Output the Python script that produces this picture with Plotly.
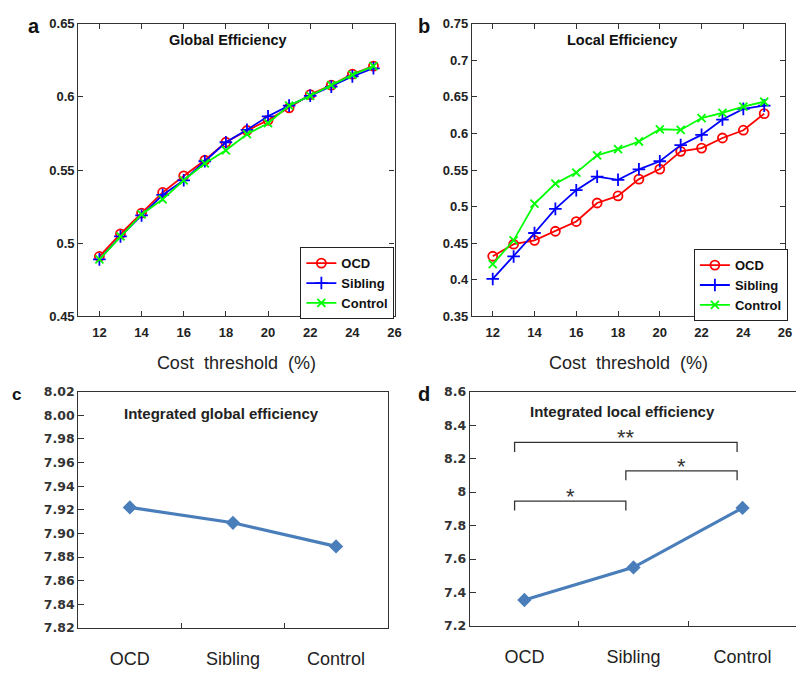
import plotly.graph_objects as go

# ---------------- data ----------------
cost = [12, 13, 14, 15, 16, 17, 18, 19, 20, 21, 22, 23, 24, 25]

glob_ocd = [0.491, 0.5064, 0.5206, 0.5347, 0.546, 0.5567, 0.569, 0.577, 0.584, 0.5925, 0.6015, 0.608, 0.6155, 0.621]
glob_sib = [0.489, 0.5047, 0.519, 0.533, 0.543, 0.556, 0.569, 0.5775, 0.5867, 0.594, 0.6007, 0.607, 0.614, 0.6195]
glob_con = [0.489, 0.5047, 0.5197, 0.530, 0.543, 0.5545, 0.5635, 0.5745, 0.582, 0.594, 0.6007, 0.608, 0.615, 0.621]

loc_ocd = [0.4323, 0.4487, 0.454, 0.4664, 0.4797, 0.505, 0.5146, 0.5376, 0.5513, 0.5756, 0.58, 0.5938, 0.6044, 0.627]
loc_sib = [0.4013, 0.432, 0.464, 0.497, 0.5225, 0.541, 0.5367, 0.551, 0.562, 0.584, 0.598, 0.619, 0.6335, 0.638]
loc_con = [0.4215, 0.454, 0.504, 0.5315, 0.5465, 0.570, 0.5786, 0.589, 0.6057, 0.6048, 0.621, 0.628, 0.6367, 0.6433]

groups = ["OCD", "Sibling", "Control"]
int_global = [7.922, 7.909, 7.889]
int_local = [7.355, 7.55, 7.905]

# significance brackets for panel d
brk_x0 = [-0.09, -0.09, 0.93]
brk_x1 = [1.95, 0.93, 1.95]
brk_y = [8.297, 7.946, 8.127]
brk_leg = [8.24, 7.89, 8.07]
brk_lbl = ["**", "*", "*"]
brk_lbl_y = [8.325, 7.975, 8.155]

W, H = 803, 673
RED, BLUE, GREEN = "#ff0000", "#0000ff", "#00ff00"
LBLUE = "#4a7ebb"

fig = go.Figure()

series = [("OCD", RED, "circle-open", 9), ("Sibling", BLUE, "cross-thin-open", 9), ("Control", GREEN, "x-thin-open", 8)]
for (name, col, sym, sz), ya in zip(series, [glob_ocd, glob_sib, glob_con]):
    fig.add_trace(go.Scatter(x=cost, y=ya, name=name, mode="lines+markers",
                             line=dict(color=col, width=1.8),
                             marker=dict(symbol=sym, size=sz, color=col, line=dict(color=col, width=1.8)),
                             xaxis="x", yaxis="y", legend="legend"))
for (name, col, sym, sz), ya in zip(series, [loc_ocd, loc_sib, loc_con]):
    fig.add_trace(go.Scatter(x=cost, y=ya, name=name, mode="lines+markers",
                             line=dict(color=col, width=1.8),
                             marker=dict(symbol=sym, size=sz, color=col, line=dict(color=col, width=1.8)),
                             xaxis="x2", yaxis="y2", legend="legend2"))

fig.add_trace(go.Scatter(x=groups, y=int_global, mode="lines+markers", showlegend=False,
                         line=dict(color=LBLUE, width=3.2),
                         marker=dict(symbol="diamond", size=11, color=LBLUE),
                         xaxis="x3", yaxis="y3"))
fig.add_trace(go.Scatter(x=groups, y=int_local, mode="lines+markers", showlegend=False,
                         line=dict(color=LBLUE, width=3.2),
                         marker=dict(symbol="diamond", size=11, color=LBLUE),
                         xaxis="x4", yaxis="y4"))

def px_x(p):
    return p / W

def px_y(p):
    return 1 - p / H

tickfont_ab = dict(family="Liberation Sans", size=13, color="#222", weight="bold")
tickfont_cd = dict(family="DejaVu Sans", size=12.5, color="#333", weight="bold")
catfont = dict(family="Liberation Sans", size=18, color="#222")
xtitle_font = dict(family="Liberation Sans", size=18, color="#222")

common_ab = dict(showline=True, linecolor="#333", linewidth=1.2, mirror="ticks",
                 ticks="inside", ticklen=5, tickcolor="#333", showgrid=False, zeroline=False,
                 tickfont=tickfont_ab)

fig.update_layout(
    width=W, height=H, margin=dict(l=0, r=0, t=0, b=0),
    paper_bgcolor="white", plot_bgcolor="white",
    xaxis=dict(domain=[px_x(79), px_x(398)], range=[11, 26], dtick=2, tick0=12, anchor="y",
               title=dict(text="Cost  threshold  (%)", font=xtitle_font, standoff=17),
               ticklabelstandoff=4, **common_ab),
    yaxis=dict(domain=[px_y(316), px_y(16)], range=[0.45, 0.65], dtick=0.05, tick0=0.45, anchor="x",
               **common_ab),
    xaxis2=dict(domain=[px_x(476), px_x(792)], range=[11, 26], dtick=2, tick0=12, anchor="y2",
                title=dict(text="Cost  threshold  (%)", font=xtitle_font, standoff=17),
                ticklabelstandoff=4, **common_ab),
    yaxis2=dict(domain=[px_y(316), px_y(16)], range=[0.35, 0.75], dtick=0.05, tick0=0.35, anchor="x2",
                **common_ab),
    xaxis3=dict(domain=[px_x(79), px_x(391)], type="category", range=[-0.5, 2.5], anchor="y3",
                showline=True, linecolor="#333", linewidth=1.2, mirror=True,
                ticks="inside", tickson="boundaries", ticklen=5, tickcolor="#333",
                showgrid=False, zeroline=False, tickfont=catfont, ticklabelstandoff=14),
    yaxis3=dict(domain=[px_y(635), px_y(393)], range=[7.82, 8.02], dtick=0.02, tick0=7.82,
                tickformat=".2f", anchor="x3",
                showline=True, linecolor="#333", linewidth=1.2, mirror=True,
                ticks="inside", ticklen=6, tickcolor="#333", showgrid=False, zeroline=False,
                tickfont=tickfont_cd),
    xaxis4=dict(domain=[px_x(474), 1.0], type="category", range=[-0.5, 2.49], anchor="y4",
                showline=True, linecolor="#333", linewidth=1.2, mirror=True,
                ticks="inside", tickson="boundaries", ticklen=5, tickcolor="#333",
                showgrid=False, zeroline=False, tickfont=catfont, ticklabelstandoff=14),
    yaxis4=dict(domain=[px_y(633), px_y(393)], range=[7.2, 8.6], dtick=0.2, tick0=7.2, anchor="x4",
                showline=True, linecolor="#333", linewidth=1.2, mirror=False,
                ticks="inside", ticklen=6, tickcolor="#333", showgrid=False, zeroline=False,
                tickfont=tickfont_cd),
    legend=dict(x=px_x(303), y=px_y(245), xanchor="left", yanchor="top",
                bordercolor="#222", borderwidth=1, bgcolor="white",
                font=dict(family="Liberation Sans", size=13, color="#111", weight="bold"),
                itemwidth=30, tracegroupgap=0),
    legend2=dict(x=px_x(700), y=px_y(247), xanchor="left", yanchor="top",
                 bordercolor="#222", borderwidth=1, bgcolor="white",
                 font=dict(family="Liberation Sans", size=13, color="#111", weight="bold"),
                 itemwidth=30, tracegroupgap=0),
)

anns = [
    dict(text="Global Efficiency", x=px_x(230), y=px_y(33), font=dict(family="Liberation Sans", size=14.5, color="#111", weight="bold")),
    dict(text="Local Efficiency", x=px_x(627), y=px_y(33), font=dict(family="Liberation Sans", size=14.5, color="#111", weight="bold")),
    dict(text="Integrated global efficiency", x=px_x(223), y=px_y(415), font=dict(family="Liberation Sans", size=15, color="#222", weight="bold")),
    dict(text="Integrated local efficiency", x=px_x(628), y=px_y(413), font=dict(family="Liberation Sans", size=15, color="#222", weight="bold")),
    dict(text="a", x=px_x(34), y=px_y(18), font=dict(family="Liberation Sans", size=20, color="#111", weight="bold")),
    dict(text="b", x=px_x(428), y=px_y(18), font=dict(family="Liberation Sans", size=20, color="#111", weight="bold")),
    dict(text="c", x=px_x(17), y=px_y(396), font=dict(family="Liberation Sans", size=17, color="#111", weight="bold")),
    dict(text="d", x=px_x(428), y=px_y(395), font=dict(family="Liberation Sans", size=20, color="#111", weight="bold")),
]
for a in anns:
    a.update(xref="paper", yref="paper", showarrow=False, xanchor="center", yanchor="middle")
    fig.add_annotation(**a)

for x0, x1, yb, yl, lbl, ylb in zip(brk_x0, brk_x1, brk_y, brk_leg, brk_lbl, brk_lbl_y):
    fig.add_shape(type="path", xref="x4", yref="y4",
                  path=f"M {x0},{yl} L {x0},{yb} L {x1},{yb} L {x1},{yl}",
                  line=dict(color="#333", width=1.3))
    fig.add_annotation(x=(x0 + x1) / 2, y=ylb, xref="x4", yref="y4", text=lbl, showarrow=False,
                       font=dict(family="Liberation Sans", size=22, color="#333"), yanchor="middle")

fig.write_html("out.html")
